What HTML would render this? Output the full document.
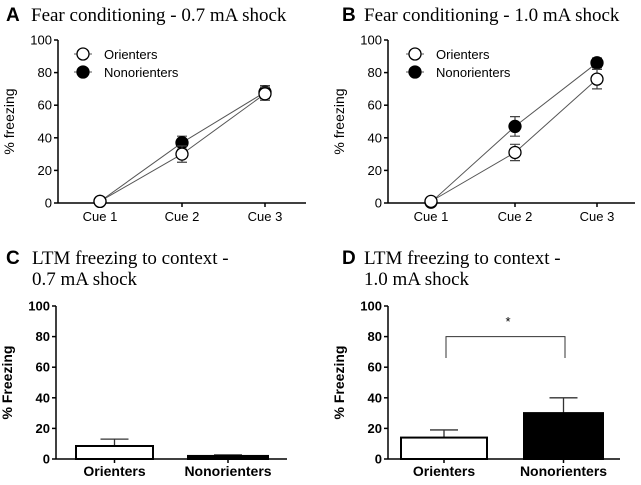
<!DOCTYPE html>
<html><head><meta charset="utf-8"><style>
body{margin:0;background:#fff}
svg text{font-family:"Liberation Sans",sans-serif}
.t{font-family:"Liberation Serif",serif;font-size:19px}
.L{font-weight:bold;font-size:19px}
</style></head><body>
<svg id="s" width="641" height="480" xmlns="http://www.w3.org/2000/svg">
<text x="6" y="21" class="L">A</text>
<text x="31" y="21" class="t">Fear conditioning - 0.7 mA shock</text>
<text x="342" y="21" class="L">B</text>
<text x="364" y="21" class="t">Fear conditioning - 1.0 mA shock</text>
<text x="6" y="264" class="L">C</text>
<text x="32" y="264" class="t">LTM freezing to context -</text>
<text x="32" y="285" class="t">0.7 mA shock</text>
<text x="342" y="264" class="L">D</text>
<text x="364" y="264" class="t">LTM freezing to context -</text>
<text x="364" y="285" class="t">1.0 mA shock</text>
</svg>
<script>
const cues=["Cue 1","Cue 2","Cue 3"];
const yTicks=[0,20,40,60,80,100];
const aOrient=[1,30,67], aOrientErr=[0,5,4];
const aNon=[1,37,68], aNonErr=[0,4,4];
const bOrient=[1,31,76], bOrientErr=[0,5,6];
const bNon=[0.5,47,86], bNonErr=[0,6,3];
const barCats=["Orienters","Nonorienters"];
const cVals=[8.5,2], cErr=[4.5,0.7];
const dVals=[14,30], dErr=[5,10];
const svg=document.getElementById('s');
const NS="http://www.w3.org/2000/svg";
function el(t,a,txt){const e=document.createElementNS(NS,t);for(const k in a)e.setAttribute(k,a[k]);if(txt!==undefined)e.textContent=txt;svg.appendChild(e);return e;}
function axes(x0,x1,y0,y1,bold,ytitle,p){
  const sy=v=>y0-(y0-y1)*v/100;
  let e=el('line',{x1:x0,y1:y1,x2:x0,y2:y0,stroke:'#000','stroke-width':1.5});
  
  e=el('line',{x1:x0,y1:y0,x2:x1,y2:y0,stroke:'#000','stroke-width':1.5});
  
  yTicks.forEach(v=>{
    el('line',{x1:x0-4,y1:sy(v),x2:x0,y2:sy(v),stroke:'#000','stroke-width':1.5});
    e=el('text',{x:x0-6,y:sy(v)+4.5,'text-anchor':'end','font-size':13,'font-weight':bold?'bold':'normal'},v);
    
  });
  const cy=(y0+y1)/2, tx=x0-44;
  e=el('text',{x:tx,y:cy,'text-anchor':'middle','font-size':14,'font-weight':bold?'bold':'normal',transform:`rotate(-90 ${tx} ${cy})`},ytitle);
  
  return sy;
}
function linePanel(p,x0,x1,xs,o,oe,n,ne,lx){
  const y0=203,y1=40;
  const sy=axes(x0,x1,y0,y1,false,'% freezing',p);
  xs.forEach((x,i)=>{el('line',{x1:x,y1:y0,x2:x,y2:y0+4,stroke:'#000','stroke-width':1.5});
    const e=el('text',{x:x,y:y0+18,'text-anchor':'middle','font-size':13},cues[i]);
    });
  [[n,ne,'#000','nonorienters'],[o,oe,'#fff','orienters']].forEach(([v,er,f,nm])=>{
    const pts=v.map((d,i)=>xs[i]+','+sy(d)).join(' ');
    let e=el('polyline',{points:pts,fill:'none',stroke:'#555','stroke-width':1});
    
    v.forEach((d,i)=>{
      if(er[i]>0){const a=sy(d+er[i]),b=sy(d-er[i]);
        el('path',{d:`M${xs[i]},${a}V${b}M${xs[i]-5},${a}H${xs[i]+5}M${xs[i]-5},${b}H${xs[i]+5}`,stroke:'#444','stroke-width':1.2,fill:'none'});}
      e=el('circle',{cx:xs[i],cy:sy(d),r:6,fill:f,stroke:'#000','stroke-width':1.3});
      
    });
  });
  [['Orienters','#fff',54],['Nonorienters','#000',72]].forEach(([t,f,y])=>{
    el('line',{x1:lx-9,y1:y,x2:lx+9,y2:y,stroke:'#555'});
    el('circle',{cx:lx,cy:y,r:6,fill:f,stroke:'#000','stroke-width':1.3});
    const e=el('text',{x:lx+21,y:y+5,'font-size':13},t);
    
  });
}
linePanel('panel-a',58,306,[100,182,265],aOrient,aOrientErr,aNon,aNonErr,83);
linePanel('panel-b',388,635,[431,515,597],bOrient,bOrientErr,bNon,bNonErr,415);
function barPanel(p,x0,x1,bars,vals,errs){
  const y0=459,y1=306;
  const sy=axes(x0,x1,y0,y1,true,'% Freezing',p);
  bars.forEach(([a,b],i)=>{
    const c=(a+b)/2, top=sy(vals[i]), et=sy(vals[i]+errs[i]);
    el('path',{d:`M${c},${top}V${et}M${c-14},${et}H${c+14}`,stroke:'#333','stroke-width':1.3,fill:'none'});
    let e=el('rect',{x:a,y:top,width:b-a,height:y0-top,fill:i?'#000':'#fff',stroke:'#000','stroke-width':2});
    
    el('line',{x1:c,y1:y0,x2:c,y2:y0+4,stroke:'#000','stroke-width':1.5});
    e=el('text',{x:c,y:y0+17,'text-anchor':'middle','font-size':14,'font-weight':'bold'},barCats[i]);
    
  });
  return sy;
}
barPanel('panel-c',56,287,[[76,153],[188,268]],cVals,cErr);
const syD=barPanel('panel-d',388,620,[[401,487],[524,603]],dVals,dErr);
let br=el('path',{d:`M446,${syD(66)}V${syD(80)}H565V${syD(66)}`,stroke:'#333','stroke-width':1,fill:'none'});


let st=el('text',{x:508,y:syD(91)+6,'text-anchor':'middle','font-size':13},'*');


</script>
</body></html>
